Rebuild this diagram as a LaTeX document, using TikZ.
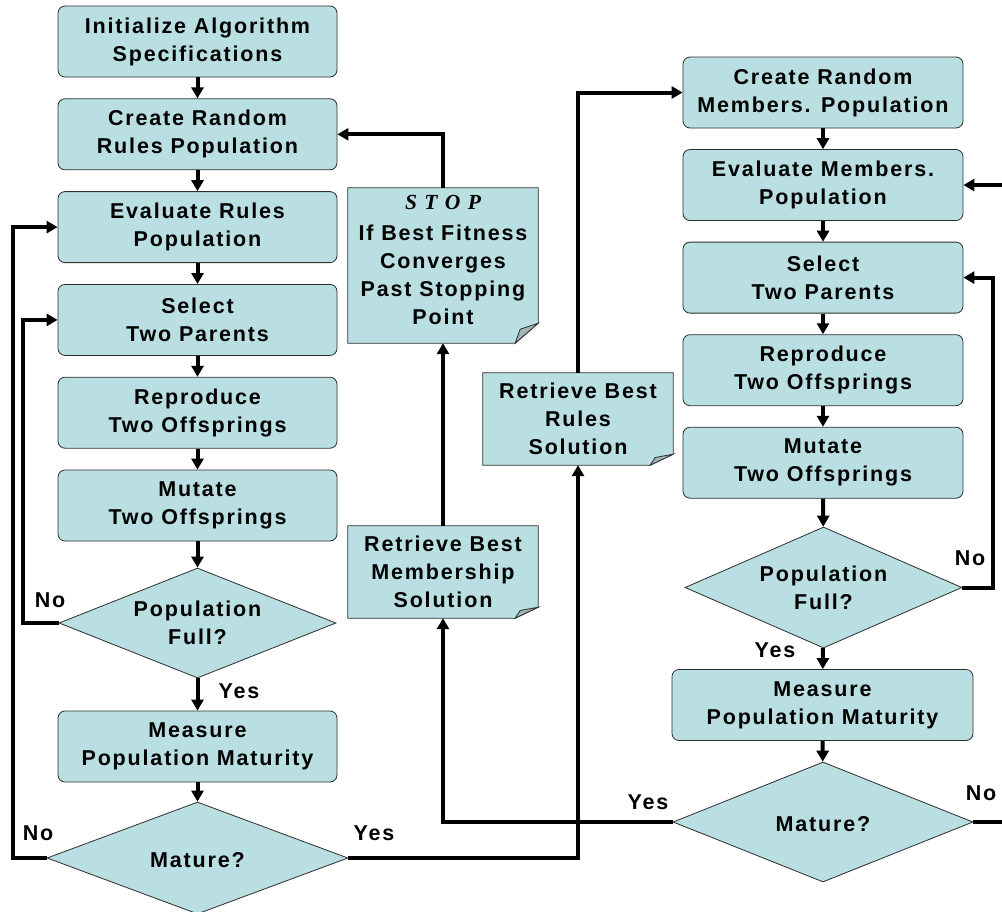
\documentclass[tikz,border=0pt]{standalone}
\usepackage{fontspec}
\setmainfont{Liberation Sans}[LetterSpace=8.5]
\newfontfamily\stopfont{Liberation Serif}[LetterSpace=35]
\usetikzlibrary{positioning}
\usetikzlibrary{arrows.meta,shapes.geometric,backgrounds}

\definecolor{boxfill}{RGB}{185,223,227}
\definecolor{boxline}{RGB}{45,45,45}
\definecolor{foldfill}{RGB}{158,182,186}

\newcommand\boxfont{\fontsize{21.5pt}{28pt}\selectfont\bfseries}

% note with a turned-down corner: #1 node name, #2 fold height
\newcommand\foldnote[2]{%
  \begin{scope}[on background layer]
    \filldraw[fill=boxfill, draw=boxline, line width=0.8pt]
      (#1.north west) -- (#1.north east) -- ([yshift=#2pt]#1.south east)
      -- ([xshift=-23pt]#1.south east) -- (#1.south west) -- cycle;
    \filldraw[fill=foldfill, draw=boxline, line width=0.8pt]
      ([yshift=#2pt]#1.south east) -- ([xshift=-18pt,yshift=0.7*#2pt]#1.south east)
      -- ([xshift=-23pt]#1.south east) -- cycle;
  \end{scope}}

\tikzset{
  proc/.style={draw=boxline, fill=boxfill, line width=0.8pt, rounded corners=7pt,
    minimum width=279pt, minimum height=71pt, align=center, inner sep=0pt,
    font=\boxfont, execute at begin node={\rule{0pt}{19.5pt}}},
  wideproc/.style={proc, minimum width=301pt},
  rproc/.style={proc, minimum width=280pt},
  test/.style={diamond, draw=boxline, fill=boxfill, line width=0.8pt, aspect=2.5,
    align=center, inner sep=0pt, font=\boxfont,
    execute at begin node={\rule{0pt}{19.5pt}}},
  note/.style={rectangle, minimum width=190pt, align=center, inner sep=0pt,
    font=\boxfont},
  flow/.style={line width=4pt, -{Triangle[length=11pt,width=12pt]}},
  lbl/.style={inner sep=0pt, font=\boxfont}
}

\begin{document}
\begin{tikzpicture}[x=1pt, y=-1pt, node distance=21pt]

\useasboundingbox (0,0) rectangle (1002,911);

% rules column
\node[proc] (init) at (197.5,41.5) {Initialize Algorithm\\Specifications};
\node[proc, below=of init] (rulespop) {Create Random\\Rules Population};
\node[proc, below=of rulespop] (evalrules) {Evaluate Rules\\Population};
\node[proc, below=of evalrules] (selL) {Select\\Two Parents};
\node[proc, below=of selL] (reprL) {Reproduce\\Two Offsprings};
\node[proc, below=of reprL] (mutL) {Mutate\\Two Offsprings};
\node[test, minimum width=277pt, minimum height=110pt] (fullL) at (197.5,623) {Population\\Full?};
\node[proc] (measL) at (197.5,746.5) {Measure\\Population Maturity};
\node[test, minimum width=301pt, minimum height=112pt] (matL) at (197.5,858) {Mature?};

% notes in the middle
\node[note, minimum height=155pt,
  label={[note, yshift=6pt]center:{{\stopfont\itshape\bfseries STOP}\\[3pt]If Best Fitness\\Converges\\Past Stopping\\Point}}]
  (stop) at (443,265.5) {};
\node[note, minimum height=92pt] (retmem) at (443,572) {Retrieve Best\\Membership\\Solution};
\node[note, minimum height=92pt] (retrules) at (578,419) {Retrieve Best\\Rules\\Solution};
\foldnote{stop}{20}
\foldnote{retmem}{11}
\foldnote{retrules}{11}

% membership column
\node[rproc] (crmem) at (823,92.5) {Create Random\\Members. Population};
\node[rproc, below=20.75pt of crmem] (evmem) {Evaluate Members.\\Population};
\node[rproc, below=20.75pt of evmem] (selR) {Select\\Two Parents};
\node[rproc, below=20.75pt of selR] (reprR) {Reproduce\\Two Offsprings};
\node[rproc, below=20.75pt of reprR] (mutR) {Mutate\\Two Offsprings};
\node[test, minimum width=277pt, minimum height=121pt] (fullR) at (823.5,587.5) {Population\\Full?};
\node[wideproc] (measR) at (822.5,705) {Measure\\Population Maturity};
\node[test, minimum width=300pt, minimum height=120pt] (matR) at (823,822) {Mature?};

% straight runs
\foreach \a/\b in {init/rulespop, rulespop/evalrules, evalrules/selL, selL/reprL,
  reprL/mutL, mutL/fullL, fullL/measL, measL/matL,
  crmem/evmem, evmem/selR, selR/reprR, reprR/mutR, mutR/fullR, fullR/measR, measR/matR}
  \draw[flow] (\a) -- (\b);

% loops back
\draw[flow] (fullL.west) -- ++(-36,0) |- (selL.west);
\draw[flow] (matL.west) -- ++(-34,0) |- (evalrules.west);
\draw[flow] (fullR.east) -- ++(31,0) |- (selR.east);
\draw[flow] (matR.east) -- ++(40,0) |- (evmem.east);

% hand-over between the two searches
\draw[flow] (matL.east) -| (retrules.south);
\draw[flow] (retrules.north) |- (crmem.west);
\draw[flow] (matR.west) -| (retmem.south);
\draw[flow] (retmem.north) -- (stop.south);
\draw[flow] (stop.north) |- (rulespop.east);

% branch labels
\node[lbl] (noFullL) at (50,600) {No};
\node[lbl] (yesFullL) at (239,691) {Yes};
\node[lbl] (noMatL) at (38,833) {No};
\node[lbl] (yesMatL) at (374,833) {Yes};
\node[lbl] (noFullR) at (970,558) {No};
\node[lbl] (yesFullR) at (775,650) {Yes};
\node[lbl] (yesMatR) at (648,802) {Yes};
\node[lbl] (noMatR) at (981,793) {No};

\end{tikzpicture}
\end{document}
